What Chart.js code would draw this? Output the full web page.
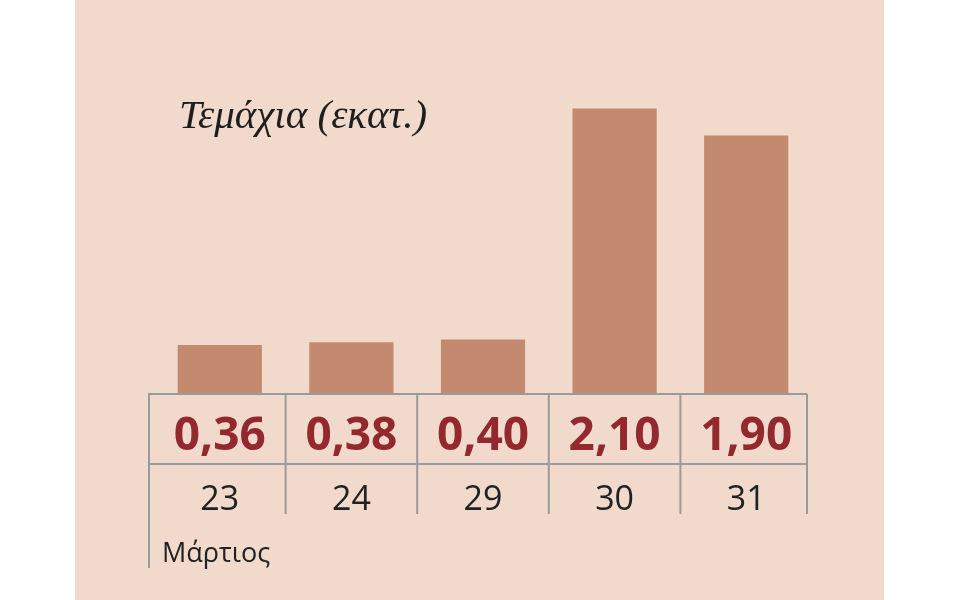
<!DOCTYPE html>
<html>
<head>
<meta charset="utf-8">
<script src="https://cdn.jsdelivr.net/npm/chart.js@4/dist/chart.umd.min.js"></script>
<style>
  html, body { margin: 0; padding: 0; background: #ffffff; }
  #wrap { width: 960px; height: 600px; }
</style>
</head>
<body>
<div id="wrap"><canvas id="chart" width="960" height="600"></canvas></div>
<script>
// Data
const days = ['23', '24', '29', '30', '31'];
const pieces = [0.36, 0.38, 0.40, 2.10, 1.90];
const valueLabels = ['0,36', '0,38', '0,40', '2,10', '1,90'];
const monthLabel = 'Μάρτιος';
const titleText = 'Τεμάχια (εκατ.)';

const panelColor = '#f1dacb';
const barColor = '#c38a6f';
const valueColor = '#93282f';
const lineColor = '#9a9a9a';

// Panel background, title and the table under the bars
const tablePlugin = {
    id: 'table',
    beforeDraw(chart) {
        const ctx = chart.ctx;
        ctx.save();
        ctx.fillStyle = '#ffffff';
        ctx.fillRect(0, 0, chart.width, chart.height);
        ctx.fillStyle = panelColor;
        ctx.fillRect(75, 0, 809, chart.height);
        ctx.restore();
    },
    afterDatasetsDraw(chart) {
        const ctx = chart.ctx;
        const x = chart.scales.x;
        const area = chart.chartArea;
        const top = area.bottom;
        const mid = top + 70;
        const low = top + 120;
        const left = area.left - 5;
        const right = area.right - 5;

        // column borders: outer edges plus midpoints between categories
        const cols = [left];
        for (let i = 0; i < days.length - 1; i++) {
            cols.push((x.getPixelForValue(i) + x.getPixelForValue(i + 1)) / 2);
        }
        cols.push(right);

        ctx.save();
        ctx.strokeStyle = lineColor;
        ctx.lineWidth = 2;
        ctx.beginPath();
        ctx.moveTo(left - 1, top); ctx.lineTo(right, top);
        ctx.moveTo(left, mid); ctx.lineTo(right, mid);
        cols.forEach((lx, i) => {
            ctx.moveTo(lx, top);
            ctx.lineTo(lx, i === 0 ? top + 174 : low);
        });
        ctx.stroke();

        ctx.textAlign = 'center';
        ctx.textBaseline = 'alphabetic';
        days.forEach((d, i) => {
            const cx = x.getPixelForValue(i);
            ctx.fillStyle = valueColor;
            ctx.font = 'bold 46px "Open Sans"';
            ctx.fillText(valueLabels[i], cx, top + 56);
            ctx.fillStyle = '#222222';
            ctx.font = '34px "Open Sans"';
            ctx.fillText(d, cx, top + 116);
        });

        ctx.textAlign = 'left';
        ctx.font = '27px "Open Sans"';
        ctx.fillText(monthLabel, 162, top + 168);

        ctx.font = 'italic 41px "Liberation Serif"';
        ctx.fillStyle = '#1e1e1e';
        ctx.fillText(titleText, 179, 128);
        ctx.restore();
    }
};

new Chart(document.getElementById('chart'), {
    type: 'bar',
    data: {
        labels: days,
        datasets: [{
            data: pieces,
            backgroundColor: barColor,
            barPercentage: 0.64,
            categoryPercentage: 1.0
        }]
    },
    options: {
        responsive: false,
        animation: false,
        devicePixelRatio: 1,
        layout: { padding: { top: 54, bottom: 206, left: 154, right: 148 } },
        scales: {
            x: { display: false },
            y: { display: false, min: 0, max: 2.5 }
        },
        plugins: {
            legend: { display: false },
            tooltip: { enabled: false }
        }
    },
    plugins: [tablePlugin]
});
</script>
</body>
</html>
